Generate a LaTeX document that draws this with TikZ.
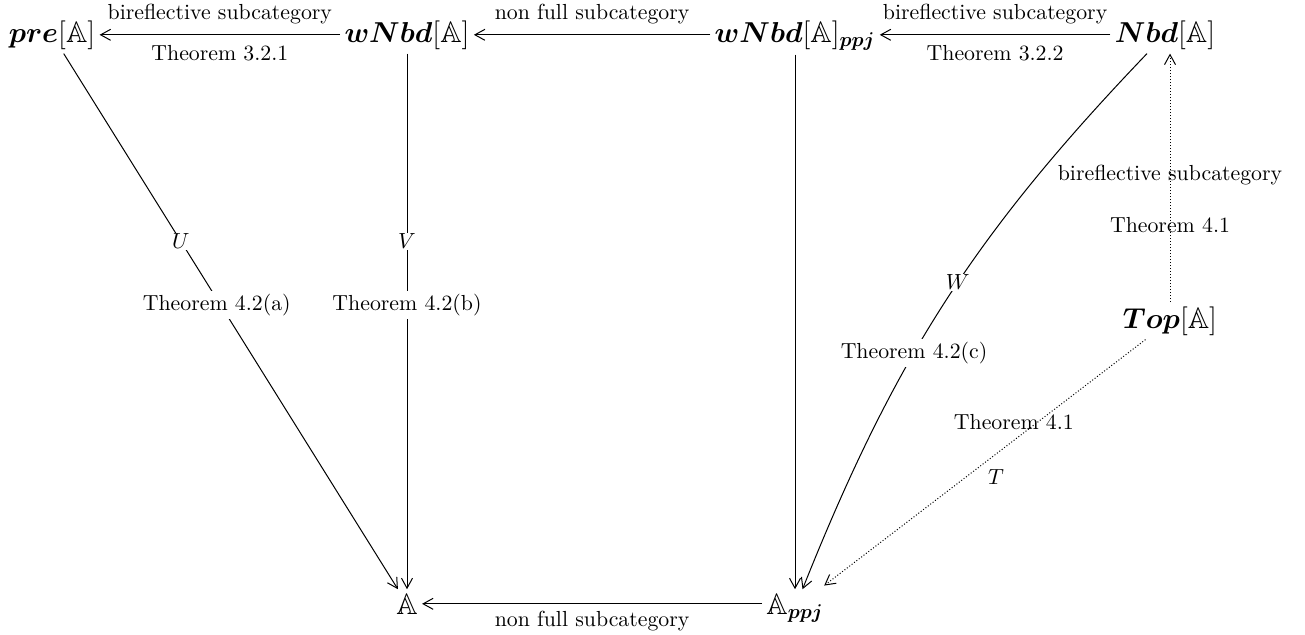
\documentclass[tikz,border=0pt]{standalone}
\usepackage{amsmath,amssymb}
\usetikzlibrary{arrows.meta}
\begin{document}
\begin{tikzpicture}[x=0.5pt,y=-0.5pt,
  obj/.style={font=\fontsize{14.8}{18}\selectfont, inner sep=2pt, anchor=base},
  arr/.style={-{Straight Barb[length=5pt,width=5.5pt]}, line width=0.5pt},
  darr/.style={arr, densely dotted},
  lbl/.style={font=\fontsize{10.9}{13}\selectfont, fill=white, inner sep=1.5pt},
  lblnf/.style={font=\fontsize{10.9}{13}\selectfont, inner sep=1pt},
  hl/.style={lblnf, inner sep=5pt},
]
\useasboundingbox (0,0) rectangle (1305,634);
\node[obj] (pre) at (52,42) {$\boldsymbol{pre}[\mathbb{A}]$};
\node[obj] (wnbd) at (407,42) {$\boldsymbol{wNbd}[\mathbb{A}]$};
\node[obj] (wnbdp) at (795,42) {$\boldsymbol{wNbd}[\mathbb{A}]_{\boldsymbol{ppj}}$};
\node[obj] (nbd) at (1165,42) {$\boldsymbol{Nbd}[\mathbb{A}]$};
\node[obj] (top) at (1170,328) {$\boldsymbol{Top}[\mathbb{A}]$};
\node[obj] (A) at (407,614) {$\mathbb{A}$};
\node[obj] (Ap) at (795,614) {$\mathbb{A}_{\boldsymbol{ppj}}$};

\draw[arr] (wnbd.west) -- (pre.east)
  node[midway, above, hl] {bireflective subcategory}
  node[midway, below, hl] {Theorem 3.2.1};
\draw[arr] (wnbdp.west |- wnbd.west) -- (wnbd.east)
  node[midway, above, hl] {non full subcategory};
\draw[arr] (nbd.west) -- (wnbdp.east |- nbd.west)
  node[midway, above, hl] {bireflective subcategory}
  node[midway, below, hl] {Theorem 3.2.2};
\draw[arr] (Ap.west |- A.east) -- (A.east)
  node[midway, below, hl, inner sep=3.5pt] {non full subcategory};

\draw[arr] (pre) -- (A)
  node[pos=0.35, lbl, inner sep=0.5pt] {$U$}
  node[pos=0.47, lbl, xshift=-2pt] {Theorem 4.2(a)};
\draw[arr] (wnbd) -- (A)
  node[pos=0.35, lbl, inner sep=0.5pt] {$V$}
  node[pos=0.47, lbl] {Theorem 4.2(b)};
\draw[arr] (wnbdp) -- (Ap);
\draw[arr] (nbd) to[bend right=11]
  node[pos=0.46, lbl, inner sep=0.5pt] {$W$}
  node[pos=0.6, lbl] {Theorem 4.2(c)} (Ap);

\draw[darr] (top) -- (top |- nbd.south)
  node[pos=0.51, lblnf] {bireflective subcategory}
  node[pos=0.31, lblnf] {Theorem 4.1};
\draw[darr, shorten >=3pt] (top) -- (Ap)
  node[pos=0.33, lblnf, xshift=-12pt] {Theorem 4.1}
  node[pos=0.52, lblnf, xshift=10pt, yshift=-4pt] {$T$};
\end{tikzpicture}
\end{document}
